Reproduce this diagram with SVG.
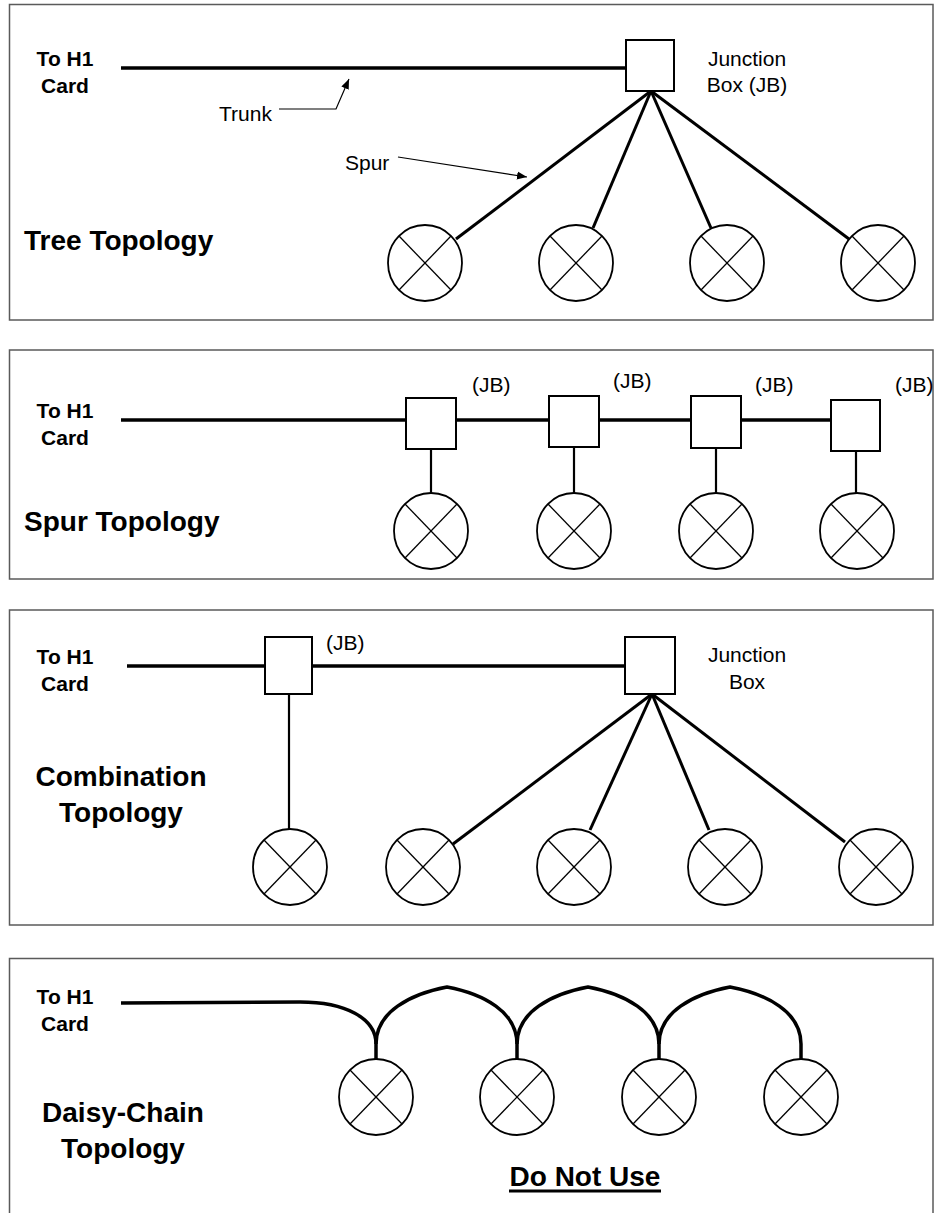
<svg xmlns="http://www.w3.org/2000/svg" xmlns:xlink="http://www.w3.org/1999/xlink" width="934" height="1213" viewBox="0 0 934 1213">
<style>
.panel{fill:#fff;stroke:#5a5a5a;stroke-width:1.5}
.trunk{fill:none;stroke:#000;stroke-width:3.5}
.spur{fill:none;stroke:#000;stroke-width:3}
.drop{fill:none;stroke:#000;stroke-width:2.2}
.box{fill:#fff;stroke:#000;stroke-width:2}
.lead{fill:none;stroke:#000;stroke-width:1.2}
.lbl{font-family:"Liberation Sans",Arial,sans-serif;font-size:21px;fill:#000}
.card{font-family:"Liberation Sans",Arial,sans-serif;font-size:21px;font-weight:bold;fill:#000;text-anchor:middle}
.title{font-family:"Liberation Sans",Arial,sans-serif;font-size:28px;font-weight:bold;fill:#000}
</style>
<defs>
<g id="device">
<ellipse cx="0" cy="0" rx="37" ry="38" fill="#fff" stroke="#000" stroke-width="1.8"/>
<line x1="-26" y1="-27" x2="26" y2="27" stroke="#000" stroke-width="1.3"/>
<line x1="26" y1="-27" x2="-26" y2="27" stroke="#000" stroke-width="1.3"/>
</g>
<marker id="arr" viewBox="0 0 10 10" refX="10" refY="5" markerWidth="10" markerHeight="10" markerUnits="userSpaceOnUse" orient="auto">
<path d="M0,1 L10,5 L0,9 Z" fill="#000"/>
</marker>
</defs>

<g id="panels">
<rect class="panel" x="9.5" y="4.5" width="923.5" height="315.5"/>
<rect class="panel" x="9.5" y="350" width="923.5" height="229"/>
<rect class="panel" x="9.5" y="610" width="923.5" height="315"/>
<rect class="panel" x="9.5" y="958.5" width="923.5" height="270"/>
</g>

<g id="connectors">
<!-- tree -->
<line class="trunk" x1="121" y1="68" x2="626" y2="68"/>
<line class="spur" x1="651" y1="91" x2="456" y2="239"/>
<line class="spur" x1="651" y1="91" x2="593" y2="228"/>
<line class="spur" x1="651" y1="91" x2="711" y2="228"/>
<line class="spur" x1="651" y1="91" x2="849" y2="239"/>
<polyline class="lead" points="279,109 336,109 349,79" marker-end="url(#arr)"/>
<line class="lead" x1="398" y1="157" x2="527" y2="177" marker-end="url(#arr)"/>
<!-- spur -->
<line class="trunk" x1="121" y1="420" x2="831" y2="420"/>
<line class="drop" x1="431" y1="449" x2="431" y2="493"/>
<line class="drop" x1="574" y1="447" x2="574" y2="493"/>
<line class="drop" x1="716" y1="448" x2="716" y2="493"/>
<line class="drop" x1="856" y1="451" x2="856" y2="493"/>
<!-- combination -->
<line class="trunk" x1="127" y1="666" x2="625" y2="666"/>
<line class="drop" x1="289" y1="694" x2="289" y2="829"/>
<line class="spur" x1="652" y1="694" x2="453" y2="844"/>
<line class="spur" x1="652" y1="694" x2="590" y2="830"/>
<line class="spur" x1="652" y1="694" x2="709" y2="830"/>
<line class="spur" x1="652" y1="694" x2="845" y2="842"/>
<!-- daisy chain -->
<path class="trunk" d="M121,1003 L300,1002 C345,1002 376,1018 376,1044 L376,1059"/>
<path class="trunk" d="M376,1044 C376,1012 410,994 447,987 C484,994 517,1012 517,1044 L517,1059"/>
<path class="trunk" d="M517,1044 C517,1012 551,994 588,987 C625,994 659,1012 659,1044 L659,1059"/>
<path class="trunk" d="M659,1044 C659,1012 693,994 730,987 C767,994 801,1012 801,1044 L801,1059"/>
</g>

<g id="tree-topology">
<text class="card" x="65" y="66">To H1</text>
<text class="card" x="65" y="93">Card</text>
<text class="lbl" x="219" y="121">Trunk</text>
<text class="lbl" x="345" y="170">Spur</text>
<text class="title" x="24" y="250">Tree Topology</text>
<g id="tree-jb"><rect class="box" x="626" y="40" width="48" height="51"/>
<text class="lbl" x="747" y="66" text-anchor="middle">Junction</text>
<text class="lbl" x="747" y="92" text-anchor="middle">Box (JB)</text></g>
<g id="tree-dev1"><use xlink:href="#device" x="425" y="263"/></g>
<g id="tree-dev2"><use xlink:href="#device" x="576" y="263"/></g>
<g id="tree-dev3"><use xlink:href="#device" x="727" y="263"/></g>
<g id="tree-dev4"><use xlink:href="#device" x="878" y="263"/></g>
</g>

<g id="spur-topology">
<text class="card" x="65" y="418">To H1</text>
<text class="card" x="65" y="445">Card</text>
<text class="title" x="24" y="531">Spur Topology</text>
<g id="spur-jb1"><rect class="box" x="406" y="398" width="50" height="51"/><text class="lbl" x="472" y="392">(JB)</text></g>
<g id="spur-jb2"><rect class="box" x="549" y="396" width="50" height="51"/><text class="lbl" x="613" y="388">(JB)</text></g>
<g id="spur-jb3"><rect class="box" x="691" y="396" width="50" height="52"/><text class="lbl" x="755" y="392">(JB)</text></g>
<g id="spur-jb4"><rect class="box" x="831" y="400" width="49" height="51"/><text class="lbl" x="895" y="392">(JB)</text></g>
<g id="spur-dev1"><use xlink:href="#device" x="431" y="531"/></g>
<g id="spur-dev2"><use xlink:href="#device" x="574" y="531"/></g>
<g id="spur-dev3"><use xlink:href="#device" x="716" y="531"/></g>
<g id="spur-dev4"><use xlink:href="#device" x="857" y="531"/></g>
</g>

<g id="combination-topology">
<text class="card" x="65" y="664">To H1</text>
<text class="card" x="65" y="691">Card</text>
<text class="title" x="121" y="786" text-anchor="middle">Combination</text>
<text class="title" x="121" y="822" text-anchor="middle">Topology</text>
<g id="comb-jb1"><rect class="box" x="265" y="637" width="47" height="57"/><text class="lbl" x="326" y="650">(JB)</text></g>
<g id="comb-jb2"><rect class="box" x="625" y="637" width="50" height="57"/>
<text class="lbl" x="747" y="662" text-anchor="middle">Junction</text>
<text class="lbl" x="747" y="689" text-anchor="middle">Box</text></g>
<g id="comb-dev1"><use xlink:href="#device" x="290" y="867"/></g>
<g id="comb-dev2"><use xlink:href="#device" x="423" y="867"/></g>
<g id="comb-dev3"><use xlink:href="#device" x="574" y="867"/></g>
<g id="comb-dev4"><use xlink:href="#device" x="725" y="867"/></g>
<g id="comb-dev5"><use xlink:href="#device" x="876" y="867"/></g>
</g>

<g id="daisy-chain-topology">
<text class="card" x="65" y="1004">To H1</text>
<text class="card" x="65" y="1031">Card</text>
<text class="title" x="123" y="1122" text-anchor="middle">Daisy-Chain</text>
<text class="title" x="123" y="1158" text-anchor="middle">Topology</text>
<g id="daisy-dev1"><use xlink:href="#device" x="376" y="1097"/></g>
<g id="daisy-dev2"><use xlink:href="#device" x="517" y="1097"/></g>
<g id="daisy-dev3"><use xlink:href="#device" x="659" y="1097"/></g>
<g id="daisy-dev4"><use xlink:href="#device" x="801" y="1097"/></g>
<g id="do-not-use"><text class="title" x="585" y="1186" text-anchor="middle">Do Not Use</text>
<line x1="509" y1="1191" x2="661" y2="1191" stroke="#000" stroke-width="3"/></g>
</g>
</svg>
